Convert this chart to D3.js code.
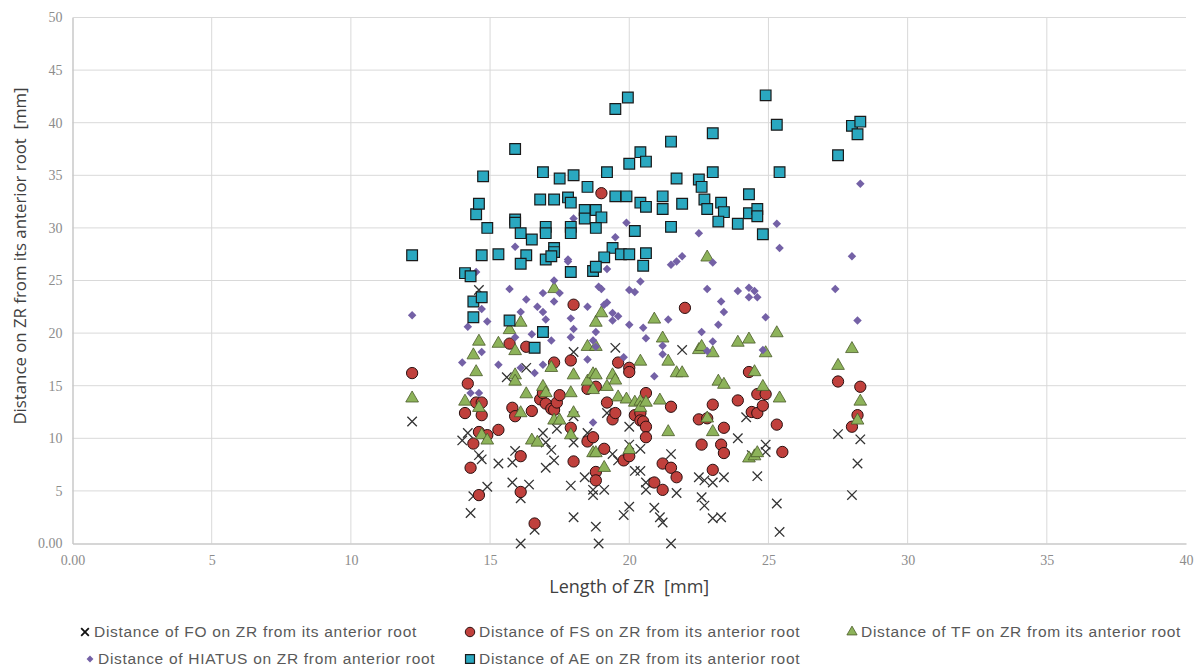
<!DOCTYPE html>
<html>
<head>
<meta charset="utf-8">
<script src="https://cdn.jsdelivr.net/npm/d3@7"></script>
<style>
  body { margin: 0; background: #fff; }
  svg { display: block; }
  .title { white-space: pre; }
</style>
</head>
<body>
<div id="chart"><svg></svg></div>
<script>
// values: [length of ZR, distance] in mm
const foPoints = [[12.2,11.6],[14.0,9.8],[14.2,10.5],[14.3,2.9],[14.4,4.5],[14.6,24.1],[14.6,8.4],[14.7,8.0],[14.9,5.4],[15.3,7.6],[15.6,15.8],[15.8,7.7],[15.8,5.8],[15.9,8.8],[16.1,4.3],[16.1,0.0],[16.3,16.7],[16.4,5.6],[16.6,1.3],[16.9,10.5],[17.0,9.6],[17.0,7.2],[17.2,8.9],[17.3,7.9],[17.4,10.9],[17.9,5.5],[18.0,18.2],[18.0,12.1],[18.0,9.6],[18.0,2.5],[18.4,6.3],[18.5,10.5],[18.7,5.1],[18.7,4.6],[18.8,1.6],[18.9,0.0],[19.1,5.1],[19.2,12.4],[19.4,8.5],[19.5,18.6],[19.6,7.9],[19.8,2.7],[20.0,11.1],[20.0,9.4],[20.0,3.5],[20.2,6.9],[20.4,9.0],[20.4,6.9],[20.6,5.8],[20.6,5.1],[20.9,3.4],[21.1,2.5],[21.2,2.0],[21.5,8.5],[21.5,0.0],[21.7,4.8],[21.9,18.4],[22.5,6.3],[22.6,4.4],[22.7,6.0],[22.7,3.6],[23.0,5.8],[23.0,2.4],[23.3,2.5],[23.4,6.3],[23.9,10.0],[24.2,12.0],[24.4,8.4],[24.6,6.4],[24.9,9.4],[24.9,8.7],[25.3,3.8],[25.4,1.1],[27.5,10.4],[28.0,4.6],[28.2,7.6],[28.3,9.9]];

const fsPoints = [[12.2,16.2],[14.2,15.2],[14.5,13.4],[14.1,12.4],[14.7,12.2],[14.7,13.4],[14.6,10.6],[14.4,9.5],[14.9,10.3],[15.3,10.8],[14.3,7.2],[14.6,4.6],[15.7,19.0],[15.8,12.9],[15.9,12.1],[16.3,18.7],[16.5,12.6],[16.1,8.3],[16.1,4.9],[16.6,1.9],[16.8,13.7],[16.9,14.3],[17.0,13.3],[17.2,12.8],[17.3,12.7],[17.3,17.2],[17.4,13.4],[17.5,14.1],[17.9,17.4],[17.9,11.0],[18.0,22.7],[18.0,7.8],[18.5,14.7],[18.5,9.7],[18.7,10.1],[18.8,14.9],[18.8,6.8],[18.8,6.0],[19.0,33.3],[19.1,9.0],[19.2,13.4],[19.4,11.8],[19.5,12.4],[19.6,17.2],[19.8,7.9],[20.0,16.7],[20.0,16.3],[20.0,8.3],[20.2,12.2],[20.4,12.4],[20.4,11.7],[20.5,11.6],[20.6,14.3],[20.6,11.1],[20.6,10.1],[20.9,5.8],[21.2,7.6],[21.2,5.1],[21.5,13.0],[21.5,7.2],[21.7,6.3],[22.0,22.4],[22.5,11.8],[22.6,9.4],[22.8,11.9],[23.0,13.2],[23.0,7.0],[23.3,9.4],[23.4,8.6],[23.4,11.0],[23.9,13.6],[24.3,16.3],[24.4,12.5],[24.6,12.4],[24.6,14.2],[24.8,13.1],[24.9,14.2],[25.3,11.3],[25.5,8.7],[27.5,15.4],[28.0,11.1],[28.2,12.2],[28.3,14.9]];

const tfPoints = [[12.2,13.8],[14.1,13.5],[14.4,17.9],[14.5,16.3],[14.6,19.2],[14.6,12.9],[14.7,10.3],[14.9,9.8],[15.3,19.0],[15.7,20.3],[15.9,18.3],[15.9,16.0],[15.9,15.4],[16.1,21.0],[16.1,12.4],[16.3,14.2],[16.5,9.8],[16.7,9.6],[16.9,14.9],[17.0,14.3],[17.2,16.7],[17.3,24.2],[17.3,11.7],[17.5,11.7],[17.9,14.3],[17.9,10.3],[18.0,16.0],[18.0,12.4],[18.5,18.7],[18.5,15.4],[18.7,16.1],[18.7,14.6],[18.7,8.6],[18.8,21.0],[18.8,18.7],[18.8,16.0],[18.8,8.6],[19.0,21.9],[19.1,7.2],[19.2,14.9],[19.4,16.0],[19.5,15.5],[19.6,13.9],[19.9,13.7],[20.0,8.9],[20.2,13.4],[20.4,17.3],[20.4,13.5],[20.4,12.9],[20.6,13.4],[20.9,21.3],[21.1,13.6],[21.2,19.5],[21.4,17.3],[21.4,10.6],[21.7,16.2],[21.9,16.2],[22.5,18.4],[22.6,18.7],[22.8,27.2],[22.8,11.9],[23.0,18.1],[23.0,10.6],[23.2,15.4],[23.4,15.1],[23.9,19.1],[24.3,19.4],[24.3,8.1],[24.5,16.3],[24.5,8.3],[24.6,8.6],[24.8,14.9],[24.9,18.1],[25.3,20.0],[25.4,13.8],[27.5,16.9],[28.0,18.5],[28.2,11.7],[28.3,13.5]];

const hiatusPoints = [[12.2,21.7],[14.2,20.6],[14.0,17.2],[14.3,14.3],[14.6,14.3],[14.5,25.8],[14.7,22.3],[14.9,21.1],[14.7,18.2],[15.3,17.0],[15.7,24.2],[15.9,28.2],[15.9,19.6],[16.1,22.0],[16.1,16.7],[16.3,23.2],[16.5,19.9],[16.6,16.2],[16.7,22.5],[16.9,23.8],[16.9,22.0],[16.9,17.0],[17.0,21.3],[17.2,19.3],[17.3,25.0],[17.3,23.0],[17.5,23.8],[17.8,26.8],[17.8,27.0],[17.9,21.4],[18.0,20.4],[17.9,19.6],[18.0,30.9],[18.5,22.5],[18.5,17.5],[18.7,19.3],[18.8,20.1],[18.8,18.7],[18.7,11.5],[18.9,24.4],[19.0,24.2],[19.1,22.7],[19.2,22.9],[19.2,26.1],[19.4,21.9],[19.6,21.6],[19.4,21.2],[19.5,29.1],[19.8,17.7],[19.9,30.5],[20.0,24.1],[20.2,23.9],[20.4,24.9],[20.0,20.8],[20.5,20.5],[20.6,19.5],[20.9,15.9],[21.2,18.8],[21.2,18.0],[21.4,21.3],[21.5,26.5],[21.7,26.8],[21.9,27.3],[22.5,29.5],[22.6,20.1],[22.8,24.2],[22.8,18.3],[23.0,26.7],[23.0,19.2],[23.2,20.8],[23.3,23.0],[23.4,22.0],[23.9,24.0],[24.3,24.3],[24.5,24.0],[24.3,23.4],[24.6,23.4],[24.8,18.4],[24.9,21.5],[25.3,30.4],[25.4,28.1],[27.4,24.2],[28.0,27.3],[28.2,21.2],[28.3,34.2]];

const aePoints = [[12.2,27.4],[14.1,25.7],[14.3,25.4],[14.4,23.0],[14.7,23.4],[14.4,21.5],[14.5,31.3],[14.6,32.3],[14.75,34.9],[14.9,30.0],[14.7,27.4],[15.3,27.5],[15.7,21.2],[15.9,37.5],[15.9,30.8],[15.9,30.5],[16.1,29.5],[16.5,28.9],[16.9,35.3],[17.5,34.7],[18.0,35.0],[18.5,33.9],[16.8,32.7],[17.3,32.7],[17.8,32.9],[17.9,32.4],[17.0,30.1],[17.0,29.5],[17.9,30.1],[17.9,29.5],[18.4,31.7],[18.4,30.9],[17.3,28.1],[17.3,27.7],[17.0,27.0],[17.2,27.3],[16.3,27.4],[16.1,26.6],[17.9,25.8],[16.9,20.1],[16.6,18.6],[19.95,42.4],[19.5,41.3],[24.9,42.6],[25.3,39.8],[23.0,39.0],[28.0,39.7],[28.3,40.1],[28.2,38.9],[27.5,36.9],[21.5,38.2],[20.4,37.2],[20.6,36.3],[20.0,36.1],[19.2,35.3],[23.0,35.3],[25.4,35.3],[21.7,34.7],[22.5,34.6],[22.6,33.9],[19.5,33.0],[19.9,33.0],[21.2,33.0],[20.4,32.4],[20.6,32.0],[21.2,31.8],[21.9,32.3],[22.7,32.7],[22.8,31.8],[23.3,32.4],[23.4,31.5],[23.2,30.6],[24.3,33.2],[24.3,31.4],[24.6,31.8],[24.6,31.1],[23.9,30.4],[24.8,29.4],[18.8,31.7],[19.0,31.0],[18.8,30.0],[20.2,29.7],[21.5,30.1],[19.4,28.1],[19.1,27.2],[19.7,27.5],[20.0,27.5],[20.6,27.6],[20.5,26.4],[18.7,25.9],[18.8,26.3]];

const seriesNames = [
  "Distance of FO on ZR from its anterior root",
  "Distance of FS on ZR from its anterior root",
  "Distance of TF on ZR from its anterior root",
  "Distance of HIATUS on ZR from anterior root",
  "Distance of AE on ZR from its anterior root"
];
const xTicks = [0, 5, 10, 15, 20, 25, 30, 35, 40];
const yTicks = [0, 5, 10, 15, 20, 25, 30, 35, 40, 45, 50];

const WIDTH = 1195, HEIGHT = 668;
const MARGINS = {top: 17.5, right: 9, bottom: 124.5, left: 72.5};

const svg = d3.select('svg')
  .attr('width', WIDTH)
  .attr('height', HEIGHT);

const x = d3.scaleLinear().domain([0, 40]).range([MARGINS.left, WIDTH - MARGINS.right]);
const y = d3.scaleLinear().domain([0, 50]).range([HEIGHT - MARGINS.bottom, MARGINS.top]);

const tickFmt = d => d === 0 ? '0.00' : String(d);

// gridlines
svg.append('g')
  .selectAll('line')
  .data(yTicks.filter(d => d > 0))
  .enter().append('line')
  .attr('x1', x(0)).attr('x2', x(40))
  .attr('y1', d => y(d)).attr('y2', d => y(d))
  .attr('stroke', '#d9d9d9').attr('stroke-width', 1);

svg.append('g')
  .selectAll('line')
  .data(xTicks.filter(d => d > 0 && d < 40))
  .enter().append('line')
  .attr('x1', d => x(d)).attr('x2', d => x(d))
  .attr('y1', y(0)).attr('y2', y(50))
  .attr('stroke', '#d9d9d9').attr('stroke-width', 1);

// axes
const xAxis = svg.append('g')
  .attr('transform', `translate(0,${y(0)})`)
  .call(d3.axisBottom(x).tickValues(xTicks).tickFormat(tickFmt).tickSize(0).tickPadding(12));
const yAxis = svg.append('g')
  .attr('transform', `translate(${x(0)},0)`)
  .call(d3.axisLeft(y).tickValues(yTicks).tickFormat(tickFmt).tickSize(0).tickPadding(10));

[xAxis, yAxis].forEach(a => {
  a.select('.domain').attr('stroke', '#c8c8c8').attr('stroke-width', 1.5);
  a.selectAll('text')
    .attr('fill', '#8c8c8c')
    .attr('font-family', 'Liberation Serif, serif')
    .attr('font-size', '14px');
});

// axis titles
svg.append('text')
  .classed('title', true)
  .attr('x', x(20))
  .attr('y', 593)
  .attr('text-anchor', 'middle')
  .attr('font-family', 'Open Sans, sans-serif')
  .attr('font-size', '18px')
  .attr('fill', '#404040')
  .text('Length of ZR  [mm]');

svg.append('text')
  .classed('title', true)
  .attr('transform', 'translate(26,256) rotate(-90)')
  .attr('text-anchor', 'middle')
  .attr('font-family', 'Open Sans, sans-serif')
  .attr('font-size', '16.8px')
  .attr('fill', '#404040')
  .text('Distance on ZR from its anterior root  [mm]');

// marker styles per series
const styles = [
  {type: d3.symbolX, size: 60, fill: 'none', stroke: '#333333', sw: 1.3},
  {type: d3.symbolCircle, size: 100, fill: '#c0403c', stroke: '#2a1010', sw: 1},
  {type: d3.symbolTriangle, size: 70, fill: '#8db35a', stroke: '#4a5a2a', sw: 0.8},
  {type: d3.symbolDiamond2, size: 46, fill: '#7461a6', stroke: 'none', sw: 0},
  {type: d3.symbolSquare, size: 115, fill: '#2aa8c0', stroke: '#1a1a1a', sw: 1.2}
];
const allSeries = [foPoints, fsPoints, tfPoints, hiatusPoints, aePoints];

allSeries.forEach((pts, i) => {
  const st = styles[i];
  svg.append('g')
    .selectAll('path')
    .data(pts)
    .enter().append('path')
    .attr('d', d3.symbol().type(st.type).size(st.size))
    .attr('transform', d => `translate(${x(d[0])},${y(d[1])})`)
    .attr('fill', st.fill)
    .attr('stroke', st.stroke)
    .attr('stroke-width', st.sw);
});

// legend
const legendPos = [[85, 632], [470, 632], [852, 632], [90, 659], [470, 659]];
const legendSizes = [40, 70, 45, 30, 80];
const legend = svg.append('g');
seriesNames.forEach((name, i) => {
  const st = styles[i];
  const [lx, ly] = legendPos[i];
  legend.append('path')
    .attr('d', d3.symbol().type(st.type).size(legendSizes[i]))
    .attr('transform', `translate(${lx},${ly})`)
    .attr('fill', st.fill)
    .attr('stroke', i === 0 ? '#111' : st.stroke)
    .attr('stroke-width', i === 0 ? 1.8 : st.sw);
  legend.append('text')
    .attr('x', lx + (i === 3 ? 8 : 9))
    .attr('y', ly)
    .attr('dy', '0.35em')
    .attr('font-family', 'Liberation Sans, Arial, sans-serif')
    .attr('font-size', '15.5px')
    .attr('letter-spacing', '0.7px')
    .attr('fill', '#595959')
    .text(name);
});
</script>
</body>
</html>
